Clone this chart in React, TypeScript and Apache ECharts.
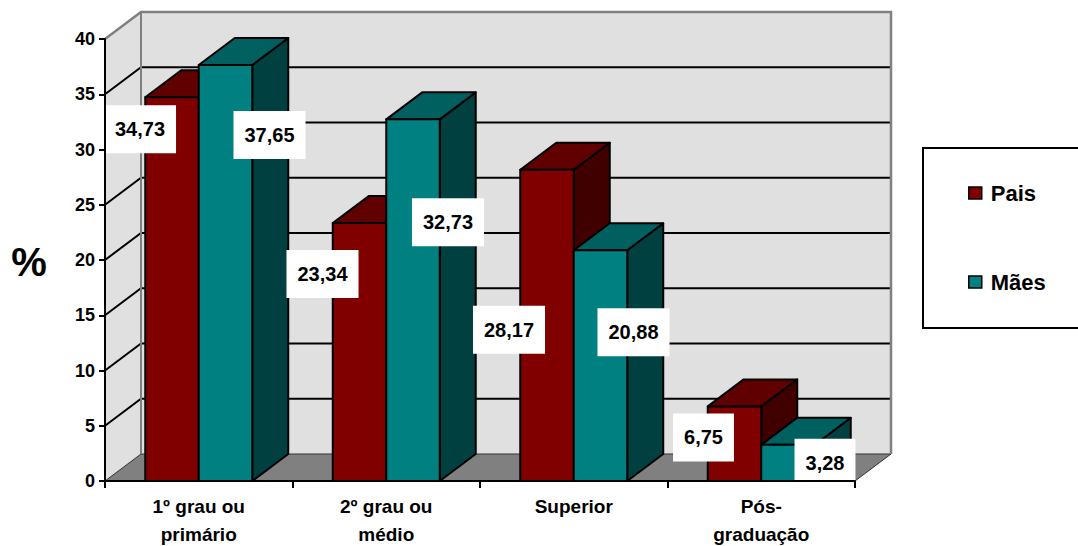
import React, { useEffect, useRef } from "react";
import * as echarts from "echarts";

// Escolaridade dos pais e das mães (%)
const categories = ["1º grau ou\nprimário", "2º grau ou\nmédio", "Superior", "Pós-\ngraduação"];
const seriesNames = ["Pais", "Mães"];
const pais = [34.73, 23.34, 28.17, 6.75];
const maes = [37.65, 32.73, 20.88, 3.28];
const gridTicks = [5, 10, 15, 20, 25, 30, 35];

// where each value box sits, relative to the top-centre of its bar face
const paisLabelShift = [[-32, 32], [-37, 51], [-38, 160], [-31, 31]];
const maesLabelShift = [[44, 70], [35, 103], [33, 82], [37, 18]];

const FONT = "'Liberation Sans', Arial, sans-serif";
const DX = 36;
const DY = -27;
const BAR_RATIO = 0.2853;

const palette = [
  { front: "#800000", top: "#600000", side: "#400000" },
  { front: "#008080", top: "#006060", side: "#004040" },
];

const fmt = (v: number) => v.toFixed(2).replace(".", ",");

function barRenderer(s: number) {
  return (params: any, api: any) => {
    const i = api.value(0);
    const v = api.value(1);
    const base = api.coord([i, 0]);
    const top = api.coord([i, v]);
    const w = api.size([1, 0])[0] * BAR_RATIO;
    const x0 = s === 0 ? base[0] - w : base[0];
    const yt = top[1];
    const yb = base[1];
    const c = palette[s];
    const edge = { stroke: "#000", lineWidth: 2, lineJoin: "round" };
    return {
      type: "group",
      children: [
        {
          type: "polygon",
          shape: { points: [[x0 + w, yt], [x0 + w + DX, yt + DY], [x0 + w + DX, yb + DY], [x0 + w, yb]] },
          style: { fill: c.side, ...edge },
        },
        {
          type: "polygon",
          shape: { points: [[x0, yt], [x0 + DX, yt + DY], [x0 + w + DX, yt + DY], [x0 + w, yt]] },
          style: { fill: c.top, ...edge },
        },
        {
          type: "rect",
          shape: { x: x0, y: yt, width: w, height: yb - yt },
          style: { fill: c.front, ...edge },
        },
      ],
    };
  };
}

function wallRenderer(params: any, api: any) {
  const cs = params.coordSys;
  const x0 = cs.x;
  const y0 = cs.y;
  const w = cs.width;
  const yb = cs.y + cs.height;
  const children: any[] = [
    {
      type: "polygon",
      shape: { points: [[x0, yb], [x0, y0], [x0 + DX, y0 + DY], [x0 + DX, yb + DY]] },
      style: { fill: "#E0E0E0" },
    },
    {
      type: "rect",
      shape: { x: x0 + DX, y: y0 + DY, width: w, height: cs.height },
      style: { fill: "#E0E0E0" },
    },
    {
      type: "polygon",
      shape: { points: [[x0, yb], [x0 + w, yb], [x0 + w + DX, yb + DY], [x0 + DX, yb + DY]] },
      style: { fill: "#808080", stroke: "#333", lineWidth: 1 },
    },
  ];
  gridTicks.forEach((t) => {
    const y = api.coord([0, t])[1];
    children.push({
      type: "polyline",
      shape: { points: [[x0, y], [x0 + DX, y + DY], [x0 + w + DX, y + DY]] },
      style: { stroke: "#000", lineWidth: 2, fill: null },
    });
  });
  children.push({
    type: "polyline",
    shape: { points: [[x0 + DX, yb + DY], [x0 + DX, y0 + DY]] },
    style: { stroke: "#808080", lineWidth: 2, fill: null },
  });
  children.push({
    type: "polyline",
    shape: { points: [[x0, y0], [x0 + DX, y0 + DY], [x0 + w + DX, y0 + DY], [x0 + w + DX, yb + DY]] },
    style: { stroke: "#808080", lineWidth: 2.5, fill: null },
  });
  return { type: "group", children };
}

function labelRenderer(params: any, api: any) {
  const i = api.value(0);
  const v = api.value(1);
  const s = api.value(2);
  const base = api.coord([i, 0]);
  const top = api.coord([i, v]);
  const w = api.size([1, 0])[0] * BAR_RATIO;
  const shift = (s === 0 ? paisLabelShift : maesLabelShift)[i];
  const cx = base[0] + (s === 0 ? -w / 2 : w / 2) + shift[0];
  const cy = top[1] + shift[1];
  return {
    type: "text",
    x: cx,
    y: cy,
    style: {
      text: fmt(v),
      align: "center",
      verticalAlign: "middle",
      fontFamily: FONT,
      fontSize: 20,
      fontWeight: "bold",
      fill: "#000",
      backgroundColor: "#fff",
      padding: [14, 11, 14, 11],
    },
  };
}

export default function App() {
  const ref = useRef<HTMLDivElement>(null);

  useEffect(() => {
    if (!ref.current) return;
    const chart = echarts.init(ref.current, null, { renderer: "svg" });
    const labelData: number[][] = [];
    [pais, maes].forEach((arr, s) => arr.forEach((v, i) => labelData.push([i, v, s])));

    chart.setOption({
      animation: false,
      backgroundColor: "#fff",
      grid: { left: 105, right: 223, top: 39, bottom: 65, outerBoundsMode: "none", containLabel: false },
      xAxis: {
        type: "category",
        data: categories,
        z: 5,
        axisLine: { show: true, lineStyle: { color: "#000", width: 2 } },
        axisTick: { show: true, length: 7, lineStyle: { color: "#000", width: 2 } },
        axisLabel: {
          color: "#000",
          fontFamily: FONT,
          fontSize: 19,
          fontWeight: "bold",
          lineHeight: 28,
          margin: 11,
          interval: 0,
        },
      },
      yAxis: {
        type: "value",
        min: 0,
        max: 40,
        interval: 5,
        z: 5,
        axisLine: { show: true, lineStyle: { color: "#000", width: 2 } },
        axisTick: { show: true, length: 6, lineStyle: { color: "#000", width: 2 } },
        splitLine: { show: false },
        axisLabel: {
          color: "#000",
          fontFamily: FONT,
          fontSize: 18,
          fontWeight: "bold",
          margin: 10,
        },
      },
      legend: {
        data: seriesNames,
        orient: "vertical",
        left: 968,
        top: 181,
        z: 10,
        padding: 0,
        itemWidth: 13,
        itemHeight: 12,
        itemGap: 65,
        selectedMode: false,
        icon: "rect",
        itemStyle: { borderColor: "#000", borderWidth: 1.5 },
        textStyle: {
          color: "#000",
          fontFamily: FONT,
          fontSize: 22,
          fontWeight: "bold",
          lineHeight: 24,
          padding: [0, 0, 0, 4],
        },
      },
      graphic: [
        {
          type: "rect",
          z: 1,
          shape: { x: 923, y: 148, width: 170, height: 180 },
          style: { fill: "#fff", stroke: "#000", lineWidth: 2 },
        },
        {
          type: "text",
          x: 29,
          y: 262,
          style: {
            text: "%",
            align: "center",
            verticalAlign: "middle",
            fontFamily: FONT,
            fontSize: 40,
            fontWeight: "bold",
            fill: "#000",
          },
        },
      ],
      series: [
        {
          type: "custom",
          name: "walls",
          z: 1,
          clip: false,
          silent: true,
          data: [[0, 0]],
          encode: { x: 0, y: 1 },
          renderItem: wallRenderer,
        },
        {
          type: "custom",
          name: seriesNames[0],
          z: 2,
          clip: false,
          itemStyle: { color: palette[0].front },
          data: pais.map((v, i) => [i, v]),
          encode: { x: 0, y: 1 },
          renderItem: barRenderer(0),
        },
        {
          type: "custom",
          name: seriesNames[1],
          z: 3,
          clip: false,
          itemStyle: { color: palette[1].front },
          data: maes.map((v, i) => [i, v]),
          encode: { x: 0, y: 1 },
          renderItem: barRenderer(1),
        },
        {
          type: "custom",
          name: "valores",
          z: 4,
          clip: false,
          silent: true,
          data: labelData,
          encode: { x: 0, y: 1 },
          renderItem: labelRenderer,
        },
      ],
    });
    return () => chart.dispose();
  }, []);

  return (
    <div
      ref={ref}
      style={{ position: "absolute", left: 0, top: 0, width: 1078, height: 546 }}
    />
  );
}
